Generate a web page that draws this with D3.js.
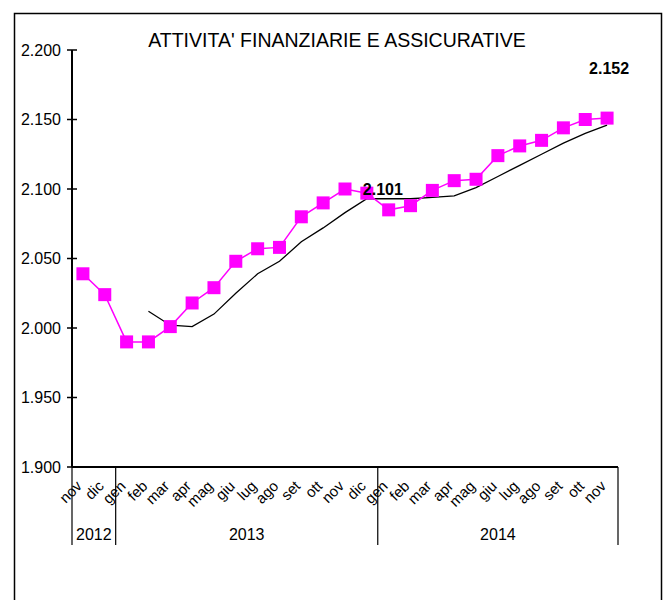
<!DOCTYPE html>
<html>
<head>
<meta charset="utf-8">
<script src="https://cdn.jsdelivr.net/npm/d3@7"></script>
<style>
  body { margin: 0; background: #fff; }
  text { font-family: "Liberation Sans", Arial, sans-serif; }
</style>
</head>
<body>
<script>
const width = 670;
const height = 600;

const title = "ATTIVITA' FINANZIARIE E ASSICURATIVE";

const months = ["nov", "dic",
  "gen", "feb", "mar", "apr", "mag", "giu", "lug", "ago", "set", "ott", "nov", "dic",
  "gen", "feb", "mar", "apr", "mag", "giu", "lug", "ago", "set", "ott", "nov"];

// years: label, first month index, month count
const years = [
  { label: "2012", start: 0, count: 2 },
  { label: "2013", start: 2, count: 12 },
  { label: "2014", start: 14, count: 11 }
];

// monthly values (magenta markers)
const values = [2.039, 2.024,
  1.990, 1.990, 2.001, 2.018, 2.029, 2.048, 2.057, 2.058, 2.080, 2.090, 2.100, 2.097,
  2.085, 2.088, 2.099, 2.106, 2.107, 2.124, 2.131, 2.135, 2.144, 2.150, 2.151];

// trend (black line), starts at feb 2013
const trend = [null, null,
  null, 2.012, 2.002, 2.001, 2.010, 2.025, 2.039, 2.048, 2.062, 2.072, 2.083, 2.093,
  2.093, 2.093, 2.094, 2.095, 2.101, 2.109, 2.117, 2.125, 2.133, 2.140, 2.146];

const yTicks = [1.9, 1.95, 2.0, 2.05, 2.1, 2.15, 2.2];

const labels = [
  { index: 13, text: "2.101" },
  { index: 24, text: "2.152" }
];

const margin = { top: 50, left: 72, right: 52, bottom: 133 };

const svg = d3.select("body").append("svg")
  .attr("width", width)
  .attr("height", height);

// outer frame
svg.append("rect")
  .attr("x", 14.5).attr("y", 13.5)
  .attr("width", 647).attr("height", 620)
  .attr("fill", "none")
  .attr("stroke", "#000")
  .attr("stroke-width", 1.5);

const x = d3.scaleBand()
  .domain(d3.range(months.length))
  .range([margin.left, width - margin.right]);

const y = d3.scaleLinear()
  .domain([1.9, 2.2])
  .range([height - margin.bottom, margin.top]);

const cx = (i) => x(i) + x.bandwidth() / 2;

svg.append("text")
  .attr("x", 337)
  .attr("y", 47)
  .attr("text-anchor", "middle")
  .style("font-size", "19.5px")
  .text(title);

// y axis with crossing ticks
const yAxis = svg.append("g");
yAxis.append("line")
  .attr("x1", margin.left).attr("x2", margin.left)
  .attr("y1", y(2.2)).attr("y2", y(1.9))
  .attr("stroke", "#000").attr("stroke-width", 2);
yAxis.selectAll(".tick")
  .data(yTicks)
  .join("line")
  .attr("x1", margin.left - 5).attr("x2", margin.left + 5)
  .attr("y1", (d) => y(d)).attr("y2", (d) => y(d))
  .attr("stroke", "#000").attr("stroke-width", 1.5);
yAxis.selectAll("text")
  .data(yTicks)
  .join("text")
  .attr("x", margin.left - 11)
  .attr("y", (d) => y(d))
  .attr("dy", "0.35em")
  .attr("text-anchor", "end")
  .style("font-size", "16px")
  .text((d) => d3.format(".3f")(d));

// x axis
const x0 = x.range()[0];
const x1 = x.range()[1];
svg.append("line")
  .attr("x1", x0).attr("x2", x1)
  .attr("y1", y(1.9)).attr("y2", y(1.9))
  .attr("stroke", "#000").attr("stroke-width", 2);

// year separators
const seps = years.map((d) => x(d.start)).concat([x1]);
svg.selectAll(".sep")
  .data(seps)
  .join("line")
  .attr("x1", (d) => d).attr("x2", (d) => d)
  .attr("y1", y(1.9)).attr("y2", 545)
  .attr("stroke", "#000").attr("stroke-width", 1.2);

svg.selectAll(".month")
  .data(months)
  .join("text")
  .attr("text-anchor", "end")
  .attr("transform", (d, i) => `translate(${cx(i)},${y(1.9) + 20}) rotate(-45)`)
  .style("font-size", "15px")
  .text((d) => d);

svg.selectAll(".year")
  .data(years)
  .join("text")
  .attr("x", (d) => (x(d.start) + x(d.start + d.count - 1) + x.bandwidth()) / 2)
  .attr("y", 540)
  .attr("text-anchor", "middle")
  .style("font-size", "16px")
  .text((d) => d.label);

// trend line
const line = d3.line()
  .defined((d) => d != null)
  .x((d, i) => cx(i))
  .y((d) => y(d));

svg.append("path")
  .datum(trend)
  .attr("fill", "none")
  .attr("stroke", "#000")
  .attr("stroke-width", 1.3)
  .attr("d", line);

// monthly series
svg.append("path")
  .datum(values)
  .attr("fill", "none")
  .attr("stroke", "#ff00ff")
  .attr("stroke-width", 1.5)
  .attr("d", line);

const ms = 13;
svg.selectAll(".marker")
  .data(values)
  .join("rect")
  .attr("x", (d, i) => cx(i) - ms / 2)
  .attr("y", (d) => y(d) - ms / 2)
  .attr("width", ms).attr("height", ms)
  .attr("fill", "#ff00ff");

svg.selectAll(".lbl")
  .data(labels)
  .join("text")
  .attr("x", (d) => cx(d.index) + (d.index === 13 ? 16 : 2))
  .attr("y", (d) => d.index === 13 ? y(values[d.index]) + 2 : y(values[d.index]) - 44)
  .attr("text-anchor", "middle")
  .style("font-size", "16px")
  .style("font-weight", "bold")
  .text((d) => d.text);
</script>
</body>
</html>
